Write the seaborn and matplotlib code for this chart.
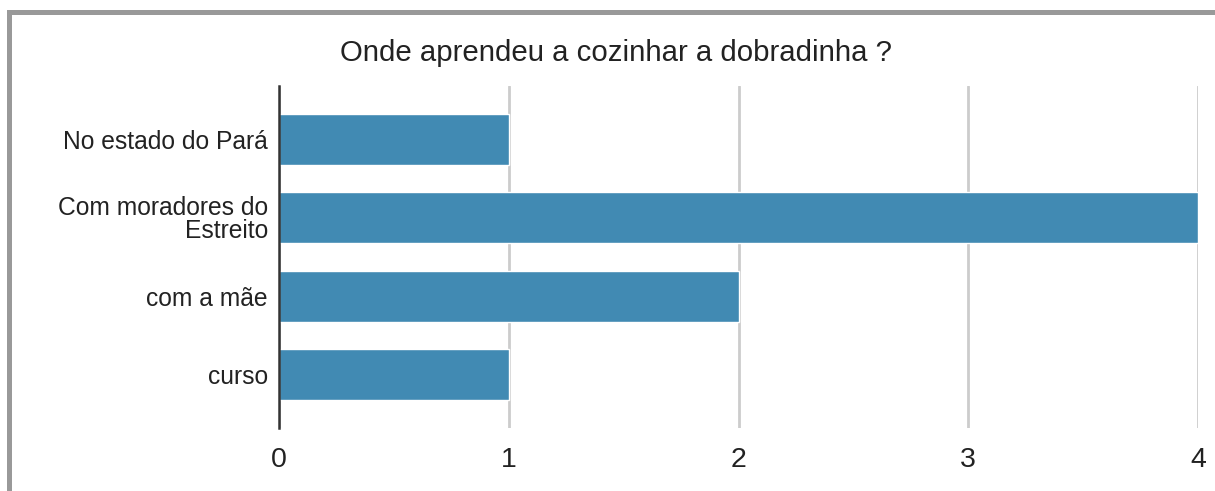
import pandas as pd
import matplotlib
matplotlib.use('Agg')
import matplotlib.pyplot as plt
import seaborn as sns
from matplotlib.patches import Rectangle

# Data
categories = ['No estado do Pará', 'Com moradores do\nEstreito', 'com a mãe', 'curso']
counts = [1, 4, 2, 1]
x_ticks = [0, 1, 2, 3, 4]

title = 'Onde aprendeu a cozinhar a dobradinha ?'
bar_color = '#418AB3'

df = pd.DataFrame({'local': categories, 'n': counts})

sns.set_theme(style='white')
plt.rcParams['font.family'] = ['Liberation Sans', 'DejaVu Sans']

fig = plt.figure(figsize=(12.15, 4.91), dpi=100)
ax = fig.add_axes([279 / 1215, 1 - 428 / 491, (1198 - 279) / 1215, (428 - 86) / 491])

sns.barplot(data=df, x='n', y='local', color=bar_color, saturation=1,
            width=0.65, ax=ax, zorder=3)

ax.set_xlim(0, 4)
ax.set_ylim(3.68, -0.68)
ax.set_xticks(x_ticks)
ax.set_xticklabels([str(t) for t in x_ticks], fontsize=20.5, color='#222222')
ax.tick_params(axis='x', length=0, pad=14)
ax.tick_params(axis='y', length=0, pad=8)
for lbl in ax.get_yticklabels():
    lbl.set_fontsize(17.7)
    lbl.set_color('#222222')
    lbl.set_linespacing(0.92)

ax.xaxis.grid(True, color='#cccccc', linewidth=2, zorder=0)
ax.yaxis.grid(False)
for side in ['top', 'right', 'bottom']:
    ax.spines[side].set_visible(False)
ax.spines['left'].set_color('#333333')
ax.spines['left'].set_linewidth(1.8)
ax.spines['left'].set_zorder(4)
ax.set_xlabel('')
ax.set_ylabel('')

fig.text((340 + 893) / 2 / 1215, 1 - 53 / 491, title, ha='center', va='center',
         fontsize=21.2, color='#222222')

# gray frame on the top and left edges
fig.add_artist(Rectangle((7 / 1215, 0), 5 / 1215, 1 - 10 / 491,
                         transform=fig.transFigure, color='#999999', lw=0))
fig.add_artist(Rectangle((7 / 1215, 1 - 15 / 491), 1, 5 / 491,
                         transform=fig.transFigure, color='#999999', lw=0))

fig.savefig('out.png', dpi=100, facecolor='white')
